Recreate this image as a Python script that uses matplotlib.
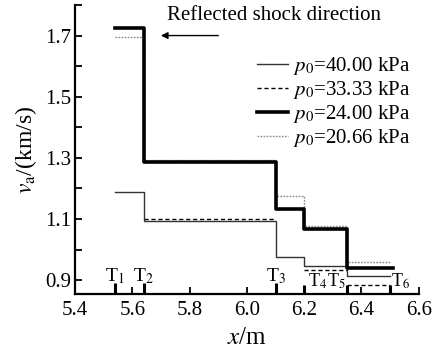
import numpy as np
import matplotlib
matplotlib.use("Agg")
import matplotlib.pyplot as plt

plt.rcParams['font.family'] = ['Liberation Serif', 'DejaVu Serif']
plt.rcParams['mathtext.fontset'] = 'stix'

# sensor positions T1..T6 (m)
t_pos = [5.54, 5.64, 6.10, 6.20, 6.35, 6.50]
t_names = ["T$_1$", "T$_2$", "T$_3$", "T$_4$", "T$_5$", "T$_6$"]

# average shock velocity between sensors (km/s)
v_40 = [1.19, 1.095, 0.977, 0.947, 0.913]
v_33 = [None, 1.100, 1.134, 0.934, 0.885]
v_24 = [1.724, 1.287, 1.134, 1.068, 0.940]
v_20 = [1.695, 1.292, 1.174, 1.077, 0.960]

labels = ["$p_0$=40.00 kPa", "$p_0$=33.33 kPa", "$p_0$=24.00 kPa", "$p_0$=20.66 kPa"]


def stairs(vals, end=None):
    xs, ys = [], []
    for i, v in enumerate(vals):
        if v is None:
            continue
        x1 = t_pos[i + 1] if end is None or i < len(vals) - 1 else end
        xs += [t_pos[i], x1]
        ys += [v, v]
    return xs, ys


fig = plt.figure(figsize=(4.44, 3.55), dpi=100)
ax = fig.add_axes([0.169, 0.172, 0.774, 0.814])

# 33.33 kPa drawn as separate dashes (no risers)
h33 = None
for i, v in enumerate(v_33):
    if v is None:
        continue
    h33, = ax.plot([t_pos[i], t_pos[i + 1]], [v, v], color="black", lw=1.0,
                   ls=(0, (3, 2)), zorder=2)

x, y = stairs(v_40)
h40, = ax.plot(x, y, color="#333333", lw=1.0, zorder=3)
x, y = stairs(v_20)
h20, = ax.plot(x, y, color="#888888", lw=1.0, ls=(0, (1.2, 1)), zorder=3)
x, y = stairs(v_24, end=6.51)
h24, = ax.plot(x, y, color="black", lw=2.6, zorder=4)

ax.legend([h40, h33, h24, h20], labels, loc="upper right", frameon=False,
          fontsize=15, handlelength=1.5, handletextpad=0.25, labelspacing=0.1,
          bbox_to_anchor=(1.0, 0.856), borderaxespad=0.0)

ax.set_xlim(5.4, 6.6)
ax.set_ylim(0.855, 1.8)
ax.set_xticks(np.arange(5.4, 6.61, 0.2))
ax.set_yticks(np.arange(0.9, 1.71, 0.2))
ax.set_yticks(np.arange(1.0, 1.81, 0.2), minor=True)
ax.tick_params(direction="in", length=5, width=1.3, labelsize=15, pad=3)
ax.tick_params(axis="x", pad=5)
ax.tick_params(which="minor", direction="in", length=5, width=1.3)
ax.set_xticklabels(["%.1f" % v for v in np.arange(5.4, 6.61, 0.2)])
ax.set_yticklabels(["%.1f" % v for v in np.arange(0.9, 1.71, 0.2)])

for s in ["top", "right"]:
    ax.spines[s].set_visible(False)
for s in ["left", "bottom"]:
    ax.spines[s].set_linewidth(1.6)

# sensor markers on the x axis
trans = ax.get_xaxis_transform()
tall = [0.038, 0.038, 0.038, 0.03, 0.03, 0.03]
for i, xp in enumerate(t_pos):
    ax.plot([xp, xp], [0, tall[i]], color="black", lw=2.2, transform=trans,
            solid_capstyle="butt", clip_on=False)
lab_dx = [0, 0, 0, 0.014, -0.006, 0.004]
lab_ha = ["center", "center", "center", "left", "right", "left"]
lab_y = [0.045, 0.045, 0.045, 0.025, 0.025, 0.025]
lab_fs = [14, 14, 14, 13, 13, 13]
for i, xp in enumerate(t_pos):
    ax.text(xp + lab_dx[i], lab_y[i], t_names[i], transform=trans,
            fontsize=lab_fs[i], ha=lab_ha[i], va="baseline")

ax.text(5.722, 1.766, "Reflected shock direction", fontsize=15, va="center", ha="left")
ax.annotate("", xy=(5.69, 1.7), xytext=(5.91, 1.7),
            arrowprops=dict(arrowstyle="-|>", color="black", lw=1.0,
                            mutation_scale=10))

ax.set_xlabel("$x$/m", fontsize=18, labelpad=5)
ax.set_ylabel("$v_{\\mathrm{a}}$/(km/s)", fontsize=17, labelpad=4)

fig.savefig("out.png", dpi=100)
